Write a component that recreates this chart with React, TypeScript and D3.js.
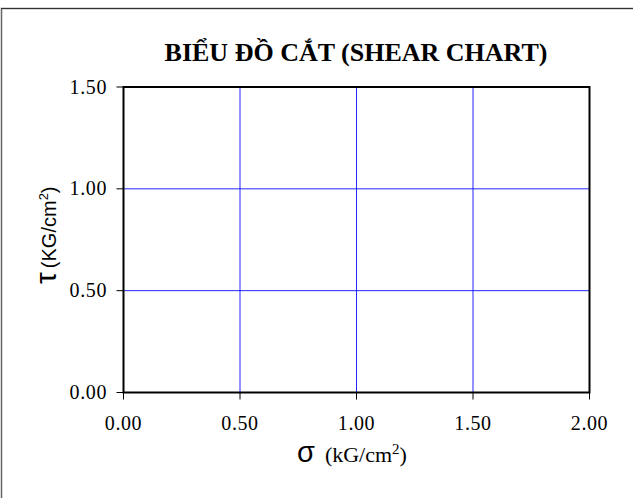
import React from "react";
import * as d3 from "d3";

const xTicks: number[] = [0, 0.5, 1.0, 1.5, 2.0];
const yTicks: number[] = [0, 0.5, 1.0, 1.5];
const xDomain: [number, number] = [0, 2];
const yDomain: [number, number] = [0, 1.5];
const titleText = "BIỂU ĐỒ CẮT (SHEAR CHART)";

export default function App() {
  const W = 633, H = 498;
  const left = 123.5, right = 589.5, top = 87, bottom = 392.5;
  const x = d3.scaleLinear().domain(xDomain).range([left, right]);
  const y = d3.scaleLinear().domain(yDomain).range([bottom, top]);
  const fmt = d3.format(".2f");
  const serif = "'Liberation Serif', 'Times New Roman', serif";
  const sans = "'Liberation Sans', Arial, sans-serif";
  return (
    <svg width={W} height={H} style={{ position: "absolute", left: 0, top: 0, background: "#fff" }}>
      <rect x={1.5} y={8.5} width={W + 10} height={H + 10} fill="#fff" stroke="#666" strokeWidth={1.5} />
      <line x1={1} x2={W} y1={8.5} y2={8.5} stroke="#333" strokeWidth={1.2} />
      <text x={356} y={61} textAnchor="middle" fontFamily={serif} fontWeight="bold" fontSize={26} fill="#000">
        {titleText}
      </text>
      {xTicks.filter((t) => t > xDomain[0] && t < xDomain[1]).map((t) => (
        <line key={"gx" + t} x1={x(t)} x2={x(t)} y1={top} y2={bottom} stroke="#0000ff" strokeWidth={1} opacity={0.85} />
      ))}
      {yTicks.filter((t) => t > yDomain[0] && t < yDomain[1]).map((t) => (
        <line key={"gy" + t} x1={left} x2={right} y1={y(t)} y2={y(t)} stroke="#0000ff" strokeWidth={1} opacity={0.85} />
      ))}
      <rect x={left} y={top} width={right - left} height={bottom - top} fill="none" stroke="#000" strokeWidth={2} />
      {xTicks.map((t) => (
        <g key={"xt" + t}>
          <line x1={x(t)} x2={x(t)} y1={bottom} y2={bottom + 7} stroke="#000" strokeWidth={1} />
          <text x={x(t)} y={430} textAnchor="middle" fontFamily={serif} fontSize={20} letterSpacing={0.6} fill="#000">
            {fmt(t)}
          </text>
        </g>
      ))}
      {yTicks.map((t) => (
        <g key={"yt" + t}>
          <line x1={left - 7} x2={left} y1={y(t)} y2={y(t)} stroke="#000" strokeWidth={1} />
          <text x={107} y={y(t) + 6.5} textAnchor="end" fontFamily={serif} fontSize={20} letterSpacing={0.6} fill="#000">
            {fmt(t)}
          </text>
        </g>
      ))}
      <text x={297} y={462} textAnchor="start" fill="#000">
        <tspan fontFamily={sans} fontSize={29}>σ</tspan>
        <tspan fontFamily={serif} fontSize={22} dx={10}>(kG/cm</tspan>
        <tspan fontFamily={serif} fontSize={15} dy={-8}>2</tspan>
        <tspan fontFamily={serif} fontSize={22} dy={8}>)</tspan>
      </text>
      <text transform="translate(56,284) rotate(-90)" textAnchor="start" fill="#000">
        <tspan fontFamily={sans} fontSize={30}>τ</tspan>
        <tspan fontFamily={sans} fontSize={20} dx={4}>(KG/cm</tspan>
        <tspan fontFamily={sans} fontSize={13} dy={-8}>2</tspan>
        <tspan fontFamily={sans} fontSize={20} dy={8}>)</tspan>
      </text>
    </svg>
  );
}
